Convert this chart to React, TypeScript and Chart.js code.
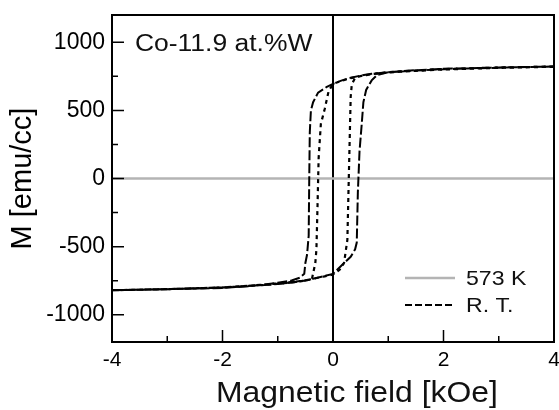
import React, { useEffect, useRef } from "react";
import { Chart, registerables } from "chart.js";

Chart.register(...registerables);

const FONT = "'Liberation Sans', Arial, Helvetica, sans-serif";

// Axis ticks
const xTicks = [-4, -2, 0, 2, 4];
const xMinorTicks = [-3, -1, 1, 3];
const yTicks = [-1000, -500, 0, 500, 1000];
const yMinorTicks = [-750, -250, 250, 750];

// Texts
const annotationText = "Co-11.9 at.%W";
const xTitle = "Magnetic field [kOe]";
const yTitle = "M [emu/cc]";
const legendLabels = ["573 K", "R. T."];

// 573 K data (flat)
const field573K = [-4, -3, -2, -1, 0, 1, 2, 3, 4];
const moment573K = [0, 0, 0, 0, 0, 0, 0, 0, 0];

// R.T. loop, wide branch (descending field)
const outerFieldDown = [4, 3, 2, 1.5, 1, 0.7, 0.5, 0.3, 0.15, 0, -0.12, -0.27, -0.36, -0.4, -0.42, -0.43, -0.44, -0.47, -0.5, -0.52, -0.6, -0.75, -1, -1.5, -2, -3, -4];
const outerMomentDown = [822, 813, 802, 792, 780, 768, 755, 738, 718, 695, 670, 630, 560, 500, 340, 0, -420, -560, -620, -700, -728, -748, -765, -790, -803, -813, -820];
// wide branch (ascending field)
const outerFieldUp = [-4, -3, -2, -1.5, -1, -0.7, -0.5, -0.3, -0.15, 0, 0.2, 0.32, 0.4, 0.43, 0.45, 0.48, 0.52, 0.55, 0.6, 0.7, 0.8, 1, 1.5, 2, 3, 4];
const outerMomentUp = [-820, -812, -800, -788, -775, -762, -748, -730, -715, -700, -620, -575, -520, -470, -100, 200, 400, 560, 650, 720, 760, 780, 795, 805, 815, 822];

// R.T. loop, narrow branch (descending field)
const innerFieldDown = [4, 3, 2, 1.5, 1, 0.7, 0.5, 0.3, 0.15, 0, -0.08, -0.15, -0.22, -0.26, -0.28, -0.3, -0.32, -0.38, -0.5, -0.8, -1.2, -2, -3, -4];
const innerMomentDown = [820, 812, 800, 790, 778, 765, 752, 735, 715, 695, 640, 510, 400, 150, -200, -520, -620, -735, -748, -762, -778, -800, -812, -820];
// narrow branch (ascending field)
const innerFieldUp = [-4, -3, -2, -1.2, -0.8, -0.5, -0.3, -0.15, 0, 0.12, 0.2, 0.26, 0.28, 0.3, 0.32, 0.34, 0.4, 0.5, 0.7, 1, 1.5, 2, 3, 4];
const innerMomentUp = [-820, -812, -800, -780, -765, -750, -730, -718, -705, -670, -620, -450, -100, 250, 600, 690, 738, 752, 766, 780, 792, 803, 814, 822];

const toPoints = (xs: number[], ys: number[]) => xs.map((x, i) => ({ x, y: ys[i] }));

const framePlugin = {
  id: "frame",
  beforeDatasetsDraw(chart: any) {
    const { ctx, chartArea: a, scales } = chart;
    const x0 = scales.x.getPixelForValue(0);
    ctx.save();
    ctx.strokeStyle = "#000";
    ctx.lineWidth = 2;
    ctx.beginPath();
    ctx.moveTo(x0, a.top);
    ctx.lineTo(x0, a.bottom);
    ctx.stroke();
    ctx.restore();
  },
  afterDraw(chart: any) {
    const { ctx, chartArea: a, scales } = chart;
    const xs = scales.x;
    const ys = scales.y;
    ctx.save();
    ctx.strokeStyle = "#000";
    ctx.lineWidth = 2;
    ctx.strokeRect(a.left, a.top, a.right - a.left, a.bottom - a.top);
    ctx.lineWidth = 1.5;
    ctx.beginPath();
    xTicks.forEach((v) => {
      const p = xs.getPixelForValue(v);
      ctx.moveTo(p, a.bottom);
      ctx.lineTo(p, a.bottom - 12);
    });
    xMinorTicks.forEach((v) => {
      const p = xs.getPixelForValue(v);
      ctx.moveTo(p, a.bottom);
      ctx.lineTo(p, a.bottom - 6);
    });
    yTicks.forEach((v) => {
      const p = ys.getPixelForValue(v);
      ctx.moveTo(a.left, p);
      ctx.lineTo(a.left + 12, p);
    });
    yMinorTicks.forEach((v) => {
      const p = ys.getPixelForValue(v);
      ctx.moveTo(a.left, p);
      ctx.lineTo(a.left + 6, p);
    });
    ctx.stroke();

    // annotation
    ctx.fillStyle = "#111";
    ctx.font = `23px ${FONT}`;
    ctx.textAlign = "left";
    ctx.textBaseline = "middle";
    ctx.save();
    ctx.translate(a.left + 23, ys.getPixelForValue(1000) + 2);
    ctx.scale(1.15, 1);
    ctx.fillText(annotationText, 0, 0);
    ctx.restore();

    // legend
    const lx0 = 405;
    const lx1 = 455;
    const ly = [278, 305];
    ctx.strokeStyle = "#b4b4b4";
    ctx.lineWidth = 2.5;
    ctx.beginPath();
    ctx.moveTo(lx0, ly[0]);
    ctx.lineTo(lx1, ly[0]);
    ctx.stroke();
    ctx.strokeStyle = "#000";
    ctx.lineWidth = 2;
    ctx.setLineDash([7, 3]);
    ctx.beginPath();
    ctx.moveTo(lx0, ly[1]);
    ctx.lineTo(lx1, ly[1]);
    ctx.stroke();
    ctx.setLineDash([]);
    ctx.font = `21px ${FONT}`;
    legendLabels.forEach((t, i) => {
      ctx.save();
      ctx.translate(466, ly[i] + 1);
      ctx.scale(1.1, 1);
      ctx.fillText(t, 0, 0);
      ctx.restore();
    });

    // x title
    ctx.font = `29px ${FONT}`;
    ctx.textAlign = "center";
    ctx.save();
    ctx.translate(357, 394);
    ctx.scale(1.1, 1);
    ctx.fillText(xTitle, 0, 0);
    ctx.restore();
    ctx.restore();
  },
};

export default function App() {
  const ref = useRef<HTMLCanvasElement>(null);
  useEffect(() => {
    const chart = new Chart(ref.current as HTMLCanvasElement, {
      type: "scatter",
      data: {
        datasets: [
          {
            label: "R. T.",
            data: [...toPoints(outerFieldDown, outerMomentDown), ...toPoints(outerFieldUp, outerMomentUp)],
            showLine: true,
            borderColor: "#000",
            borderWidth: 2,
            borderDash: [10, 3],
            pointRadius: 0,
            tension: 0,
            fill: false,
          },
          {
            label: "R. T. (2)",
            data: [...toPoints(innerFieldDown, innerMomentDown), ...toPoints(innerFieldUp, innerMomentUp)],
            showLine: true,
            borderColor: "#000",
            borderWidth: 2.2,
            borderDash: [4, 4],
            pointRadius: 0,
            tension: 0,
            fill: false,
          },
          {
            label: "573 K",
            data: toPoints(field573K, moment573K),
            showLine: true,
            borderColor: "#b4b4b4",
            borderWidth: 2.5,
            pointRadius: 0,
            tension: 0,
            fill: false,
          },
        ],
      },
      options: {
        animation: false,
        responsive: true,
        maintainAspectRatio: false,
        layout: { padding: { top: 15, right: 5, left: 0, bottom: 0 } },
        plugins: { legend: { display: false }, tooltip: { enabled: false } },
        scales: {
          x: {
            type: "linear",
            min: -4,
            max: 4,
            grid: { display: false, drawTicks: false },
            border: { display: false },
            afterBuildTicks: (s: any) => {
              s.ticks = xTicks.map((v) => ({ value: v }));
            },
            afterFit: (s: any) => {
              s.height = 68;
              s.paddingLeft = 0;
              s.paddingRight = 0;
            },
            ticks: {
              color: "#000",
              font: { family: FONT, size: 21 },
              padding: 6,
              maxRotation: 0,
              autoSkip: false,
              callback: (v: any) => String(v),
            },
          },
          y: {
            type: "linear",
            min: -1200,
            max: 1200,
            grid: { display: false, drawTicks: false },
            border: { display: false },
            afterBuildTicks: (s: any) => {
              s.ticks = yTicks.map((v) => ({ value: v }));
            },
            afterFit: (s: any) => {
              s.width = 112;
              s.paddingTop = 0;
              s.paddingBottom = 0;
            },
            ticks: {
              color: "#000",
              font: { family: FONT, size: 23 },
              padding: 7,
              autoSkip: false,
              callback: (v: any) => String(v),
            },
            title: {
              display: true,
              text: yTitle,
              color: "#000",
              font: { family: FONT, size: 29 },
              padding: { top: 6, bottom: 0 },
            },
          },
        },
      },
      plugins: [framePlugin],
    } as any);
    return () => chart.destroy();
  }, []);
  return (
    <div style={{ position: "fixed", left: 0, top: 0, width: 559, height: 410, background: "#fff" }}>
      <canvas ref={ref} />
    </div>
  );
}
